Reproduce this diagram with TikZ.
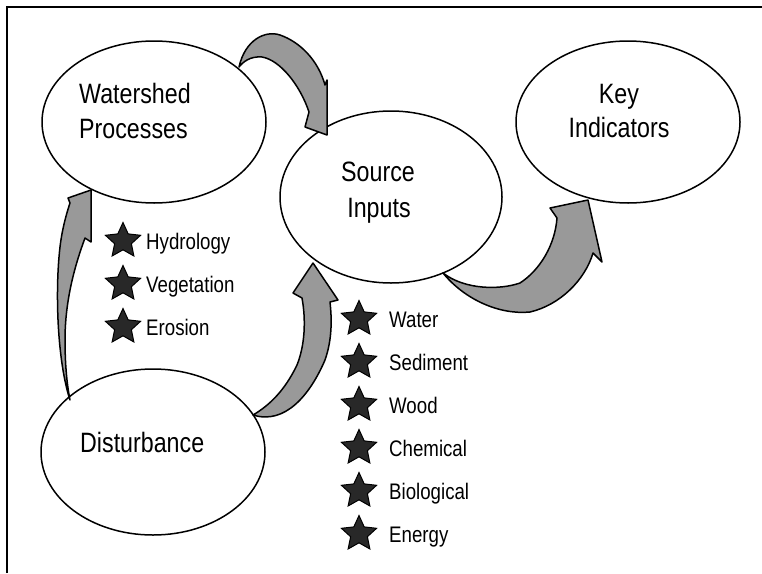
\documentclass[tikz,border=0pt]{standalone}
\usepackage{fontspec}
\setmainfont{Liberation Sans}
\newfontfamily\narrowsans{Liberation Sans}[FakeStretch=0.83]
\usetikzlibrary{shapes.geometric}
\definecolor{arrowgray}{RGB}{153,153,153}
\definecolor{stargray}{RGB}{40,40,40}
\begin{document}
\begin{tikzpicture}[x=1pt,y=-1pt,
  bubble/.style={draw, line width=1.5pt, ellipse, inner sep=0pt},
  bigtext/.style={font=\narrowsans\fontsize{28}{35}\selectfont, inner sep=0pt},
  smalltext/.style={font=\narrowsans\fontsize{22.5}{24}\selectfont, inner sep=0pt, anchor=base west},
  starmark/.style={star, star points=5, star point ratio=2.1, minimum size=37pt, inner sep=0pt, fill=stargray, draw=black, line width=1pt},
  flow/.style={fill=arrowgray, draw=black, line width=1.5pt, line join=round}]
\useasboundingbox (0,0) rectangle (762,573);
% frame
\coordinate (fc) at (7,7);
\coordinate (fr) at (762,7);
\coordinate (fb) at (7,573);
\draw[line width=1.8pt] (fb) -- (fc) -- (fr);

% ellipses
\node[bubble, minimum width=224pt, minimum height=162pt] (wp) at (154,122) {};
\node[bubble, minimum width=222pt, minimum height=172pt] (si) at (391,197) {};
\node[bubble, minimum width=224pt, minimum height=162pt] (ki) at (628,122) {};
\node[bubble, minimum width=224pt, minimum height=166pt] (di) at (153,452) {};

% labels
\node[bigtext, anchor=base west] (wpt1) at (79,103) {Watershed};
\node[bigtext, anchor=base west] (wpt2) at (79,138) {Processes};
\node[bigtext, anchor=base] (sit1) at (378,181) {Source};
\node[bigtext, anchor=base] (sit2) at (379,217) {Inputs};
\node[bigtext, anchor=base] (kit1) at (619,103) {Key};
\node[bigtext, anchor=base] (kit2) at (619,137) {Indicators};
\node[bigtext, anchor=base west] (dit) at (80,452) {Disturbance};

% arrows
\draw[flow] (239,67) .. controls (245,40) and (265,30) .. (280,35)
  .. controls (300,42) and (318,60) .. (325,85) -- (327,80) -- (327,135)
  -- (305,127) -- (309,112) .. controls (300,85) and (280,60) .. (262,57)
  .. controls (250,56) and (243,62) .. (239,67) -- cycle;
\draw[flow] (70,400) .. controls (57,360) and (55,290) .. (60,247)
  .. controls (62,230) and (66,215) .. (70,203) -- (68,198) -- (91,190)
  -- (91,242) -- (85,238) .. controls (75,265) and (65,300) .. (65,340)
  .. controls (65,370) and (68,390) .. (70,400) -- cycle;
\draw[flow] (253,415) .. controls (285,425) and (310,395) .. (325,360)
  .. controls (332,340) and (332,320) .. (330,302) -- (338,300) -- (313,263)
  -- (293,293) -- (302,298) .. controls (306,320) and (305,345) .. (297,365)
  .. controls (285,390) and (270,405) .. (253,415) -- cycle;
\draw[flow] (443,273) .. controls (465,300) and (500,315) .. (530,312)
  .. controls (560,305) and (585,280) .. (593,253) -- (602,262) -- (588,200)
  -- (550,208) -- (557,218) .. controls (555,245) and (540,270) .. (520,283)
  .. controls (500,290) and (465,290) .. (443,273) -- cycle;

% left list
\node[starmark] (s1) at (123,241) {};
\node[starmark] (s2) at (123,284) {};
\node[starmark] (s3) at (123,327) {};
\node[smalltext] (t1) at (146,249) {Hydrology};
\node[smalltext] (t2) at (146,292) {Vegetation};
\node[smalltext] (t3) at (146,335) {Erosion};

% right list
\node[starmark] (r1) at (359,319) {};
\node[starmark] (r2) at (359,362) {};
\node[starmark] (r3) at (359,405) {};
\node[starmark] (r4) at (359,448) {};
\node[starmark] (r5) at (359,491) {};
\node[starmark] (r6) at (359,534) {};
\node[smalltext] (u1) at (389,327) {Water};
\node[smalltext] (u2) at (389,370) {Sediment};
\node[smalltext] (u3) at (389,413) {Wood};
\node[smalltext] (u4) at (389,456) {Chemical};
\node[smalltext] (u5) at (389,499) {Biological};
\node[smalltext] (u6) at (389,542) {Energy};
\end{tikzpicture}
\end{document}
